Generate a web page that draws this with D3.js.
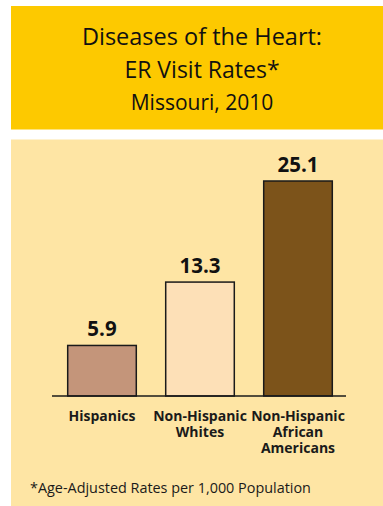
<!DOCTYPE html>
<html><head><meta charset="utf-8">
<script src="https://cdn.jsdelivr.net/npm/d3@7"></script>
<style>html,body{margin:0;padding:0;background:#fff;}svg{display:block;}</style>
</head><body>
<script>
const categories = [["Hispanics"], ["Non-Hispanic", "Whites"], ["Non-Hispanic", "African", "Americans"]];
const values = [5.9, 13.3, 25.1];
const colors = ["#c4957a", "#fde0b7", "#7c531a"];
const titleLines = ["Diseases of the Heart:", "ER Visit Rates*", "Missouri, 2010"];
const footnote = "*Age-Adjusted Rates per 1,000 Population";

const W = 383, H = 506;
const svg = d3.select("body").append("svg").attr("width", W).attr("height", H);
const font = "'Open Sans', sans-serif";

svg.append("rect").attr("x", 11).attr("y", 6).attr("width", W - 11).attr("height", 123.5).attr("fill", "#fdc900");
svg.append("rect").attr("x", 11).attr("y", 139.5).attr("width", W - 11).attr("height", H - 139.5).attr("fill", "#fee5a4");

const tcx = 202;
svg.append("text").attr("x", tcx).attr("y", 45).attr("text-anchor", "middle").attr("font-family", font).attr("font-size", 23.5).attr("fill", "#111").text(titleLines[0]);
svg.append("text").attr("x", tcx).attr("y", 77.5).attr("text-anchor", "middle").attr("font-family", font).attr("font-size", 23).attr("fill", "#111").text(titleLines[1]);
svg.append("text").attr("x", tcx).attr("y", 110).attr("text-anchor", "middle").attr("font-family", font).attr("font-size", 21).attr("fill", "#111").text(titleLines[2]);

const x = d3.scaleBand().domain(d3.range(values.length)).range([53, 347]).paddingInner(0.3).paddingOuter(0.15);
const y = d3.scaleLinear().domain([0, 25.1]).range([396, 181]);

svg.selectAll("rect.bar").data(values).join("rect").attr("class", "bar")
  .attr("x", (d, i) => x(i)).attr("y", d => y(d))
  .attr("width", x.bandwidth()).attr("height", d => y(0) - y(d))
  .attr("fill", (d, i) => colors[i]).attr("stroke", "#1a1a1a").attr("stroke-width", 1.5);

svg.selectAll("text.val").data(values).join("text").attr("class", "val")
  .attr("x", (d, i) => x(i) + x.bandwidth() / 2).attr("y", d => y(d) - 9)
  .attr("text-anchor", "middle").attr("font-family", font).attr("font-weight", "bold")
  .attr("font-size", 20.5).attr("fill", "#111").text(d => d.toFixed(1));

svg.append("line").attr("x1", 52).attr("x2", 346).attr("y1", y(0)).attr("y2", y(0)).attr("stroke", "#1a1a1a").attr("stroke-width", 1.5);

categories.forEach((lines, i) => {
  svg.selectAll("text.cat" + i).data(lines).join("text").attr("class", "cat" + i)
    .attr("x", x(i) + x.bandwidth() / 2).attr("y", (l, j) => 421 + j * 16)
    .attr("text-anchor", "middle").attr("font-family", font).attr("font-weight", "bold")
    .attr("font-size", 14).attr("fill", "#1a1a1a").text(l => l);
});

svg.append("text").attr("x", 30).attr("y", 493).attr("font-family", font).attr("font-size", 14.4).attr("fill", "#1a1a1a").text(footnote);
</script>
</body></html>
